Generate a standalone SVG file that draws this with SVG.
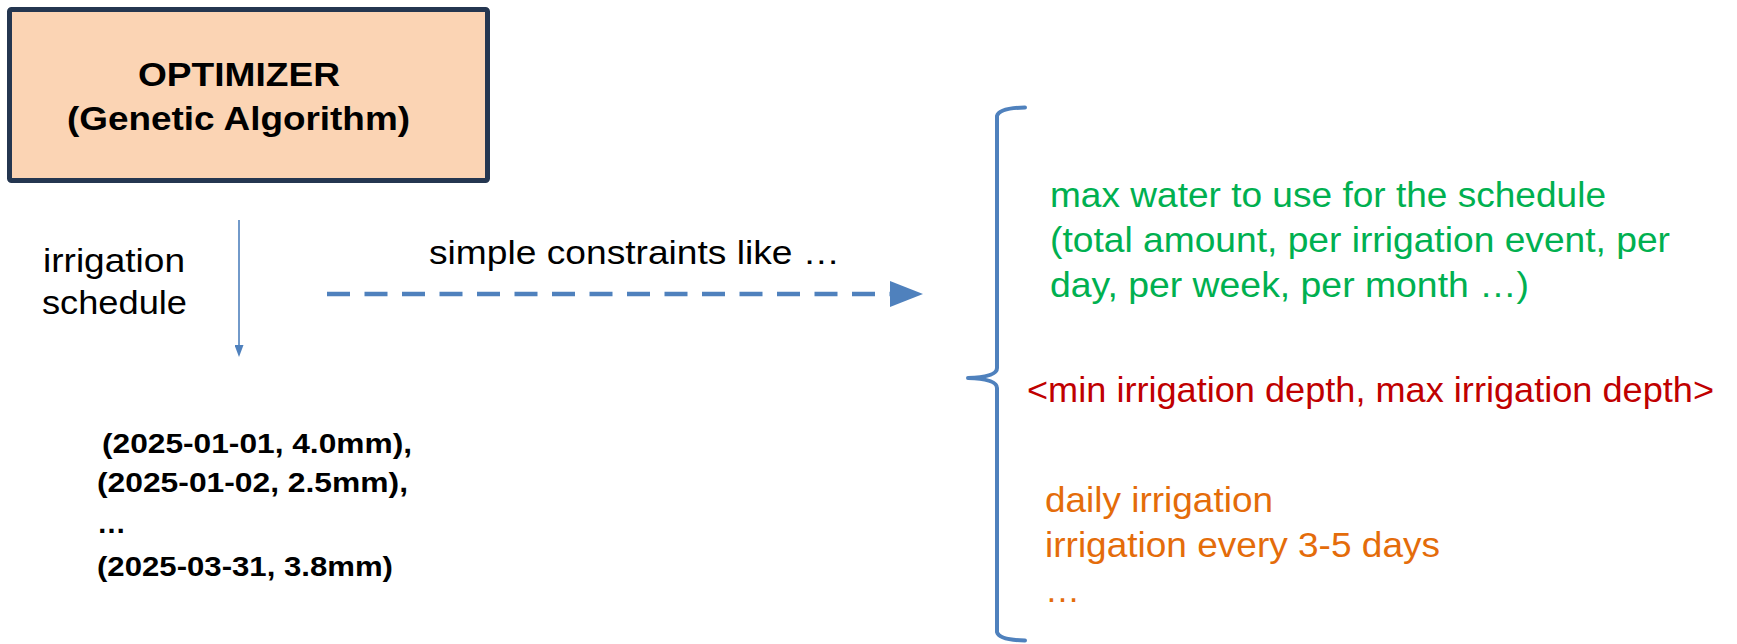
<svg xmlns="http://www.w3.org/2000/svg" width="1737" height="644" viewBox="0 0 1737 644">
  <style>
    .sans { font-family: "Liberation Sans", Arial, sans-serif; }
    .bold { font-weight: bold; }
    .blk { fill: #000000; }
    .green { fill: #00B050; }
    .red { fill: #C00000; }
    .orange { fill: #E46C0A; }
    .conn { stroke: #4F81BD; fill: none; }
  </style>
  <defs>
    <marker id="arrowSmall" viewBox="0 0 10 10" refX="0" refY="5" markerWidth="12" markerHeight="9" markerUnits="userSpaceOnUse" orient="auto" preserveAspectRatio="none">
      <path d="M0,0 L10,5 L0,10 z" fill="#4F81BD"/>
    </marker>
    <marker id="arrowBig" viewBox="0 0 10 10" refX="0" refY="5" markerWidth="33" markerHeight="26" markerUnits="userSpaceOnUse" orient="auto" preserveAspectRatio="none">
      <path d="M0,0 L10,5 L0,10 z" fill="#4F81BD"/>
    </marker>
  </defs>
  <rect width="1737" height="644" fill="#ffffff"/>

  <g id="optimizer">
    <rect x="9.5" y="9.5" width="478" height="171" rx="2" fill="#FBD4B4" stroke="#243650" stroke-width="5"/>
    <text class="sans bold blk" x="239" y="86" font-size="34" text-anchor="middle" textLength="202" lengthAdjust="spacingAndGlyphs">OPTIMIZER</text>
    <text class="sans bold blk" x="238.5" y="130" font-size="34" text-anchor="middle" textLength="343" lengthAdjust="spacingAndGlyphs">(Genetic Algorithm)</text>
  </g>

  <g id="label-irrigation-schedule">
    <text class="sans blk" x="43" y="272" font-size="34" textLength="142" lengthAdjust="spacingAndGlyphs">irrigation</text>
    <text class="sans blk" x="42" y="314" font-size="34" textLength="145" lengthAdjust="spacingAndGlyphs">schedule</text>
  </g>

  <g id="label-simple-constraints">
    <text class="sans blk" x="429" y="264" font-size="34" textLength="411" lengthAdjust="spacingAndGlyphs">simple constraints like …</text>
  </g>

  <g id="schedule-list">
    <text class="sans bold blk" x="102" y="453" font-size="28" textLength="310" lengthAdjust="spacingAndGlyphs">(2025-01-01, 4.0mm),</text>
    <text class="sans bold blk" x="97" y="492" font-size="28" textLength="311" lengthAdjust="spacingAndGlyphs">(2025-01-02, 2.5mm),</text>
    <text class="sans bold blk" x="97" y="533" font-size="28" textLength="29" lengthAdjust="spacingAndGlyphs">…</text>
    <text class="sans bold blk" x="97" y="576" font-size="28" textLength="296" lengthAdjust="spacingAndGlyphs">(2025-03-31, 3.8mm)</text>
  </g>

  <g id="constraints-brace">
    <path class="conn" stroke-width="4" stroke-linecap="round" stroke-linejoin="round" d="M1025,107.5 Q999,108 997,116 L997,368 Q997,377 968,378 Q997,379 997,388 L997,632 Q999,640 1025,640.5"/>
  </g>

  <g id="constraint-water">
    <text class="sans green" x="1050" y="207" font-size="35" textLength="556" lengthAdjust="spacingAndGlyphs">max water to use for the schedule</text>
    <text class="sans green" x="1050" y="252" font-size="35" textLength="620" lengthAdjust="spacingAndGlyphs">(total amount, per irrigation event, per</text>
    <text class="sans green" x="1050" y="297" font-size="35" textLength="479" lengthAdjust="spacingAndGlyphs">day, per week, per month …)</text>
  </g>

  <g id="constraint-depth">
    <text class="sans red" x="1027" y="402" font-size="35" textLength="687" lengthAdjust="spacingAndGlyphs">&lt;min irrigation depth, max irrigation depth&gt;</text>
  </g>

  <g id="constraint-frequency">
    <text class="sans orange" x="1045" y="512" font-size="35" textLength="228" lengthAdjust="spacingAndGlyphs">daily irrigation</text>
    <text class="sans orange" x="1045" y="557" font-size="35" textLength="395" lengthAdjust="spacingAndGlyphs">irrigation every 3-5 days</text>
    <text class="sans orange" x="1045" y="602" font-size="35" textLength="35" lengthAdjust="spacingAndGlyphs">…</text>
  </g>

  <g id="connectors">
    <line class="conn" x1="239" y1="220" x2="239" y2="345" stroke-width="1.6" marker-end="url(#arrowSmall)"/>
    <line class="conn" x1="327" y1="294" x2="890" y2="294" stroke-width="4.5" stroke-dasharray="23 14.5" marker-end="url(#arrowBig)"/>
  </g>
</svg>
